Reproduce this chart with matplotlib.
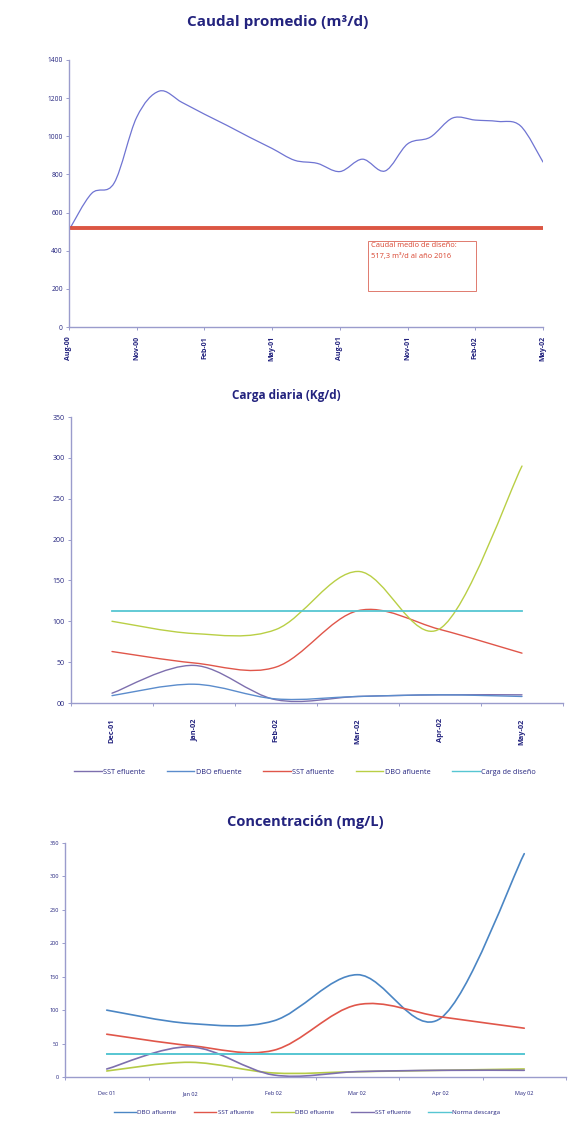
import numpy as np
import matplotlib
matplotlib.use("Agg")
import matplotlib.pyplot as plt
from matplotlib.path import Path
from matplotlib.patches import PathPatch
from matplotlib.lines import Line2D

plt.rcParams['font.family'] = ['Open Sans', 'DejaVu Sans']

# ---------------- data ----------------
# Monthly average flow, Aug-00 .. May-02
caudal = [508, 700, 755, 1100, 1237, 1178, 1116, 1057, 995, 936, 874,
          858, 815, 880, 818, 960, 995, 1096, 1085, 1078, 1055, 865]
caudal_ticks = ["Aug-00", "Nov-00", "Feb-01", "May-01", "Aug-01",
                "Nov-01", "Feb-02", "May-02"]
caudal_diseno = 517.3

# Daily load (kg/d)
meses_carga = ["Dec-01", "Jan-02", "Feb-02", "Mar-02", "Apr-02", "May-02"]
carga_sst_ef = [12, 46, 4, 8, 10, 10]
carga_dbo_ef = [9, 23, 5, 8, 10, 8]
carga_sst_af = [63, 49, 44, 113, 90, 61]
carga_dbo_af = [100, 85, 90, 161, 91, 290]
carga_diseno = 113

# Concentration (mg/L)
meses_conc = ["Dec 01", "Jan 02", "Feb 02", "Mar 02", "Apr 02", "May 02"]
conc_dbo_af = [100, 80, 84, 153, 88, 334]
conc_sst_af = [64, 47, 40, 108, 90, 73]
conc_dbo_ef = [9, 22, 6, 8, 10, 12]
conc_sst_ef = [12, 45, 3, 8, 10, 10]
norma_descarga = 35

# ---------------- helpers ----------------
W, H = 569, 1123
NAVY = "#23237e"
AXIS = "#9a9ccc"


def fx(x):
    return x / W


def fy(y):
    return 1 - y / H


def box(l, t, r, b):
    return [fx(l), fy(b), (r - l) / W, (b - t) / H]


def smooth_path(xs, ys):
    """Smoothed (Catmull-Rom style) cubic Bezier path through the points."""
    pts = np.column_stack([xs, ys]).astype(float)
    n = len(pts)
    verts = [pts[0]]
    codes = [Path.MOVETO]
    for i in range(n - 1):
        p0 = pts[i - 1] if i > 0 else pts[i]
        p1, p2 = pts[i], pts[i + 1]
        p3 = pts[i + 2] if i + 2 < n else pts[i + 1]
        verts += [p1 + (p2 - p0) / 6, p2 - (p3 - p1) / 6, p2]
        codes += [Path.CURVE4] * 3
    return Path(verts, codes)


def smooth_line(ax, xs, ys, color, lw):
    ax.add_patch(PathPatch(smooth_path(xs, ys), facecolor="none",
                           edgecolor=color, lw=lw, capstyle="round",
                           joinstyle="round"))


def style(ax, size):
    for s in ("top", "right"):
        ax.spines[s].set_visible(False)
    for s in ("left", "bottom"):
        ax.spines[s].set_color(AXIS)
        ax.spines[s].set_linewidth(1.0)
    ax.tick_params(axis="both", which="both", color=AXIS, labelcolor=NAVY,
                   labelsize=size, width=0.7, length=2.5, pad=2)
    ax.set_facecolor("none")


fig = plt.figure(figsize=(W / 100, H / 100), dpi=100)

# ---------------- Caudal promedio ----------------
fig.text(fx(278), fy(22), "Caudal promedio (m\u00b3/d)", ha="center",
         va="center", fontsize=11, fontweight="bold", color=NAVY)
ax1 = fig.add_axes(box(69, 60, 543, 327))
style(ax1, 4.8)
x1 = np.arange(len(caudal))
ax1.axhline(caudal_diseno, color="#d8432e", lw=2.8, alpha=0.9, zorder=2)
smooth_line(ax1, x1, caudal, "#6f74d2", 0.9)
ax1.set_xlim(0, len(caudal) - 1)
ax1.set_ylim(0, 1400)
ax1.set_yticks(np.arange(0, 1401, 200))
ax1.set_xticks(np.arange(0, len(caudal), 3))
ax1.set_xticklabels(caudal_ticks, rotation=90, fontweight="bold")
ax1.tick_params(axis="x", pad=4, labelsize=5.0)
ax1.text(0.638, 0.317, "Caudal medio de dise\u00f1o:\n517,3 m\u00b3/d al a\u00f1o 2016",
         transform=ax1.transAxes, ha="left", va="top", fontsize=5.4,
         color="#d8432e", linespacing=1.75)
ax1.add_patch(plt.Rectangle((0.631, 0.135), 0.228, 0.187,
                            transform=ax1.transAxes, fill=False,
                            edgecolor="#e07a6e", lw=0.7))

# ---------------- Carga diaria ----------------
fig.text(fx(286), fy(395), "Carga diaria (Kg/d)", ha="center",
         va="center", fontsize=8.5, fontweight="bold", color=NAVY)
ax2 = fig.add_axes(box(71, 417, 563, 703))
style(ax2, 5.0)
x2 = np.arange(len(meses_carga))
c2 = {"SST efluente": ("#7d6fae", carga_sst_ef),
      "DBO efluente": ("#5b8ccc", carga_dbo_ef),
      "SST afluente": ("#e0564a", carga_sst_af),
      "DBO afluente": ("#b9cf45", carga_dbo_af)}
for name, (col, vals) in c2.items():
    smooth_line(ax2, x2, vals, col, 1.0)
ax2.plot([x2[0], x2[-1]], [carga_diseno] * 2, color="#56c6d2", lw=1.3)
ax2.set_xlim(-0.5, len(meses_carga) - 0.5)
ax2.set_ylim(0, 350)
ax2.set_yticks(np.arange(0, 351, 50))
ax2.set_yticklabels(["00"] + [str(v) for v in range(50, 351, 50)])
ax2.set_xticks(x2)
ax2.set_xticklabels(meses_carga, rotation=90, fontweight="bold")
ax2.tick_params(axis="x", which="major", length=0, pad=11, labelsize=5.3)
ax2.set_xticks(np.arange(-0.5, len(meses_carga), 1), minor=True)
h2 = [Line2D([], [], color=c, lw=1.0) for c, _ in c2.values()]
h2.append(Line2D([], [], color="#56c6d2", lw=1.0))
fig.legend(h2, list(c2.keys()) + ["Carga de dise\u00f1o"],
           loc="center", bbox_to_anchor=(fx(305), fy(772)), ncol=5,
           frameon=False, fontsize=5.2, handlelength=3.8, handletextpad=0.2,
           columnspacing=3.0, labelcolor=NAVY)

# ---------------- Concentracion ----------------
fig.text(fx(305), fy(822), "Concentraci\u00f3n (mg/L)", ha="center",
         va="center", fontsize=10.5, fontweight="bold", color=NAVY)
ax3 = fig.add_axes(box(65, 843, 566, 1077))
style(ax3, 4.0)
x3 = np.arange(len(meses_conc))
c3 = {"DBO afluente": ("#4b86c4", conc_dbo_af),
      "SST afluente": ("#e0564a", conc_sst_af),
      "DBO efluente": ("#b5cb46", conc_dbo_ef),
      "SST efluente": ("#7d6fae", conc_sst_ef)}
for name, (col, vals) in c3.items():
    smooth_line(ax3, x3, vals, col, 1.2)
ax3.plot([x3[0], x3[-1]], [norma_descarga] * 2, color="#56c6d2", lw=1.4)
ax3.set_xlim(-0.5, len(meses_conc) - 0.5)
ax3.set_ylim(0, 350)
ax3.set_yticks(np.arange(0, 351, 50))
ax3.set_xticks(x3)
ax3.set_xticklabels(meses_conc)
ax3.tick_params(axis="x", which="major", length=0, pad=10)
ax3.set_xticks(np.arange(-0.5, len(meses_conc), 1), minor=True)
h3 = [Line2D([], [], color=c, lw=1.0) for c, _ in c3.values()]
h3.append(Line2D([], [], color="#56c6d2", lw=1.0))
fig.legend(h3, list(c3.keys()) + ["Norma descarga"],
           loc="center", bbox_to_anchor=(fx(307), fy(1112)), ncol=5,
           frameon=False, fontsize=4.5, handlelength=3.6, handletextpad=0.2,
           columnspacing=2.8, labelcolor=NAVY)

fig.savefig("out.png", dpi=100, facecolor="white")
